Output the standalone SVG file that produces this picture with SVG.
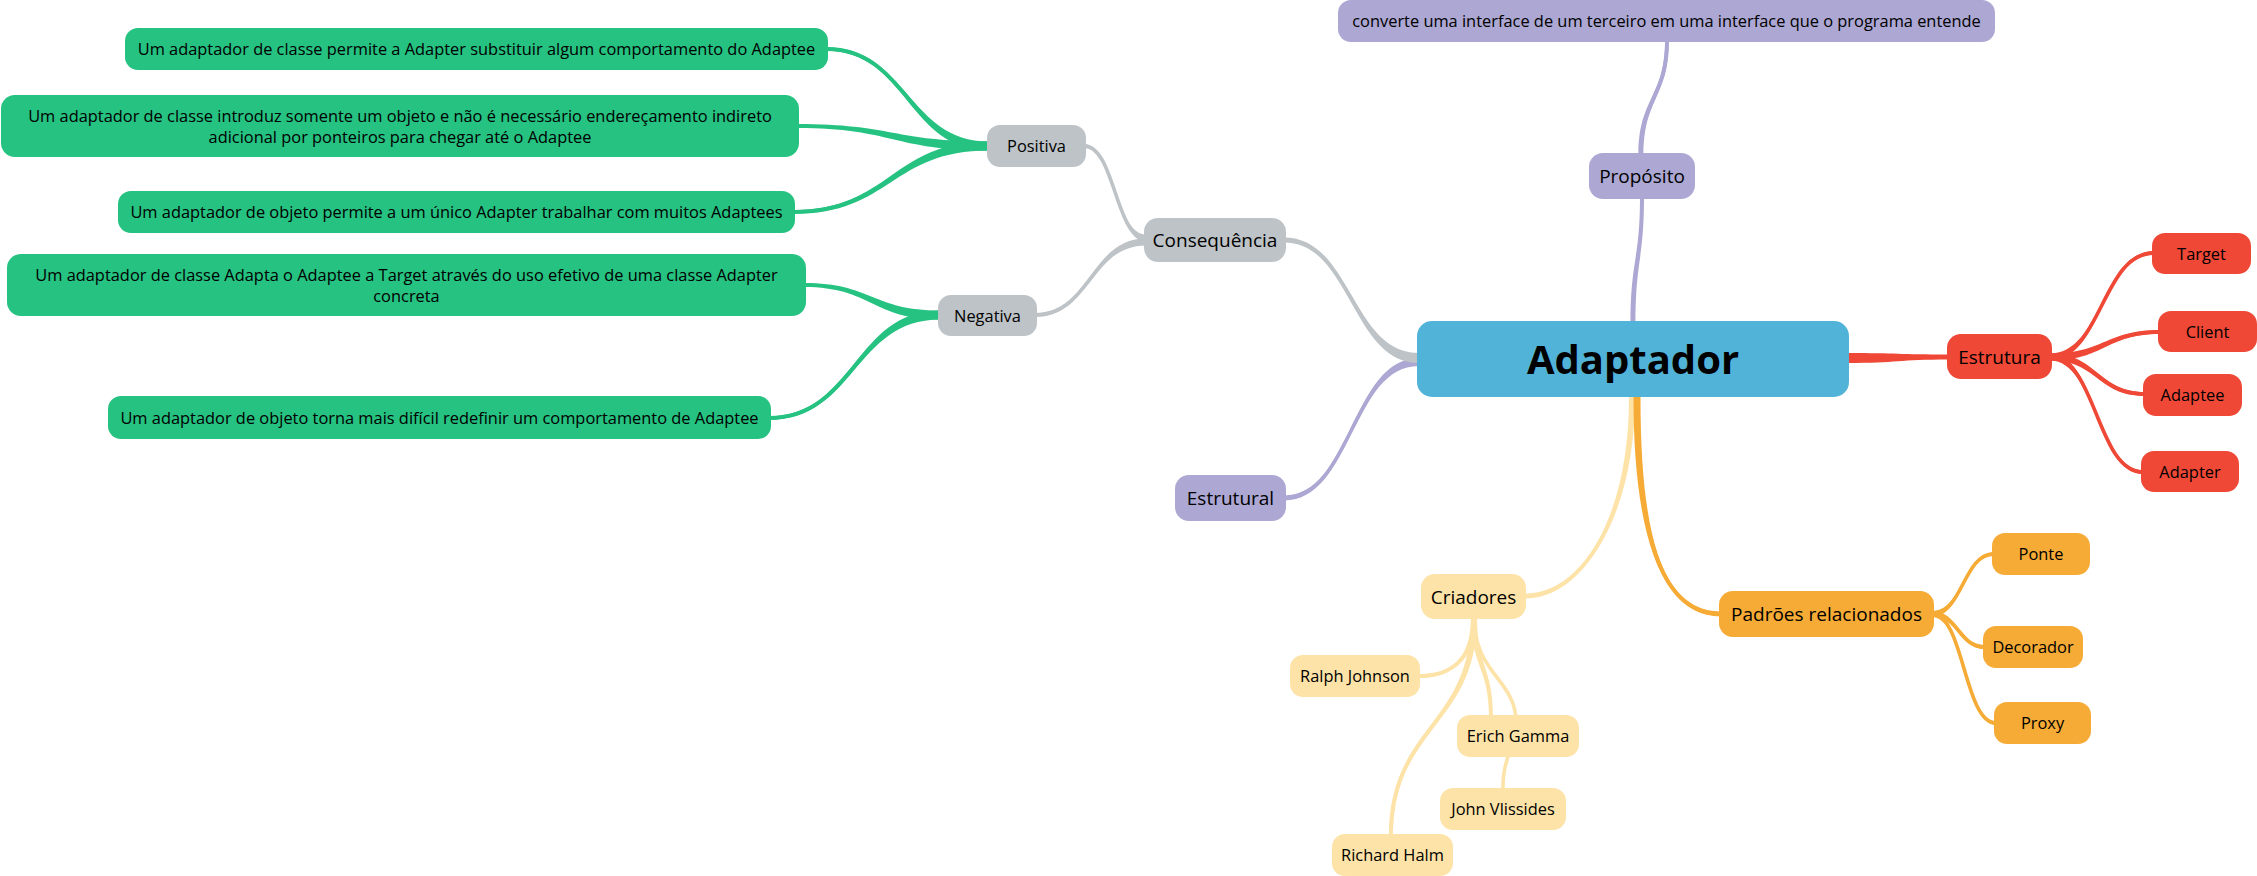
<svg xmlns="http://www.w3.org/2000/svg" width="2257" height="876" viewBox="0 0 2257 876">
<style>
text{font-family:"Open Sans","Noto Sans",sans-serif;fill:#000;text-anchor:middle}
.t16{font-size:16.4px}
.t19{font-size:19px}
.root{font-size:40px;font-weight:bold;fill:#000}
.green{fill:#26c281}
.gray{fill:#bdc3c7}
.purple{fill:#aca7d3}
.blue{fill:#52b3d9}
.red{fill:#ef4836}
.orange{fill:#f5ab35}
.yellow{fill:#fde3a7}
.line{fill:none;stroke-width:3.6}
.sg{stroke:#26c281}.sy{stroke:#bdc3c7}.sp{stroke:#aca7d3}.sr{stroke:#ef4836}.so{stroke:#f5ab35}.sl{stroke:#fde3a7}
</style>
<rect width="2257" height="876" fill="#fff"/>
<g id="connectors">
<path class="green" d="M826,47 C907.5,47 907.5,141.5 989,141.5 L989,150.5 C907.5,150.5 907.5,51 826,51 Z"/>
<path class="green" d="M797,124 C893,124 893,141.5 989,141.5 L989,150.5 C893,150.5 893,128 797,128 Z"/>
<path class="green" d="M793,210 C891,210 891,141.5 989,141.5 L989,150.5 C891,150.5 891,214 793,214 Z"/>
<path class="green" d="M804,283 C872,283 872,310.5 940,310.5 L940,319.5 C872,319.5 872,287 804,287 Z"/>
<path class="green" d="M769,416 C854.5,416 854.5,310.5 940,310.5 L940,319.5 C854.5,319.5 854.5,420 769,420 Z"/>
<path class="line sg" d="M826,49 C907.5,49 907.5,146 989,146"/>
<path class="line sg" d="M793,212 C891,212 891,146 989,146"/>
<path class="line sg" d="M769,418 C854.5,418 854.5,315 940,315"/>
<path class="gray" d="M1084,144 C1115,144 1115,234.5 1146,234.5 L1146,241.5 C1115,241.5 1115,148 1084,148 Z"/>
<path class="gray" d="M1035,313 C1090.5,313 1090.5,238.5 1146,238.5 L1146,245.5 C1090.5,245.5 1090.5,317 1035,317 Z"/>
<path class="line sy" d="M1084,146 C1115,146 1115,238 1146,238"/>
<path class="line sy" d="M1035,315 C1090.5,315 1090.5,242 1146,242"/>
<path class="purple" d="M1284,495.5 C1351.5,495.5 1351.5,358 1419,358 L1419,366 C1351.5,366 1351.5,500.5 1284,500.5 Z"/>
<path class="line sp" d="M1284,498 C1351.5,498 1351.5,362 1419,362"/>
<path class="gray" d="M1284,237.5 C1351.5,237.5 1351.5,353 1419,353 L1419,363 C1351.5,363 1351.5,242.5 1284,242.5 Z"/>
<path class="line sy" d="M1284,240 C1351.5,240 1351.5,358 1419,358"/>
<path class="purple" d="M1630.5,323 C1630.5,260 1640,260 1640,197 L1644,197 C1644,260 1635.5,260 1635.5,323 Z"/>
<path class="purple" d="M1638.5,155 C1638.5,97.5 1665,97.5 1665,40 L1669,40 C1669,97.5 1643.5,97.5 1643.5,155 Z"/>
<path class="line sp" d="M1641,155 C1641,97.5 1667,97.5 1667,40"/>
<path class="red" d="M1949,354.5 C1898,354.5 1898,353 1847,353 L1847,363 C1898,363 1898,359.5 1949,359.5 Z"/>
<path class="red" d="M2154,251 C2102,251 2102,353.5 2050,353.5 L2050,360.5 C2102,360.5 2102,255 2154,255 Z"/>
<path class="red" d="M2160,330 C2105,330 2105,353.5 2050,353.5 L2050,360.5 C2105,360.5 2105,334 2160,334 Z"/>
<path class="red" d="M2145,392 C2097.5,392 2097.5,353.5 2050,353.5 L2050,360.5 C2097.5,360.5 2097.5,396 2145,396 Z"/>
<path class="red" d="M2143,470 C2096.5,470 2096.5,353.5 2050,353.5 L2050,360.5 C2096.5,360.5 2096.5,474 2143,474 Z"/>
<path class="line sr" d="M2154,253 C2102,253 2102,357 2050,357"/>
<path class="line sr" d="M2160,332 C2105,332 2105,357 2050,357"/>
<path class="line sr" d="M2145,394 C2097.5,394 2097.5,357 2050,357"/>
<path class="line sr" d="M2143,472 C2096.5,472 2096.5,357 2050,357"/>
<path class="yellow" d="M1635,397 C1635,520 1580,598.5 1526,598.5 L1526,593.5 C1580,593.5 1629,520 1629,397 Z"/>
<path class="line sl" d="M1632,397 C1632,520 1580,596 1526,596"/>
<path class="orange" d="M1633.5,397 C1633.5,545 1665,616.5 1721,616.5 L1721,611.5 C1665,611.5 1640.5,545 1640.5,397 Z"/>
<path class="line so" d="M1637,397 C1637,545 1665,614 1721,614"/>
<path class="orange" d="M1994,552 C1963,552 1963,611 1932,611 L1932,617 C1963,617 1963,556 1994,556 Z"/>
<path class="orange" d="M1985,645 C1958.5,645 1958.5,611 1932,611 L1932,617 C1958.5,617 1958.5,649 1985,649 Z"/>
<path class="orange" d="M1996,721 C1964,721 1964,611 1932,611 L1932,617 C1964,617 1964,725 1996,725 Z"/>
<path class="line so" d="M1994,554 C1963,554 1963,614 1932,614"/>
<path class="line so" d="M1985,647 C1958.5,647 1958.5,614 1932,614"/>
<path class="line so" d="M1996,723 C1964,723 1964,614 1932,614"/>
<path class="yellow" d="M1477,617 C1477,660 1450,678 1420,678 L1420,674 C1450,674 1471,660 1471,617 Z"/>
<path class="yellow" d="M1471,617 C1471,726 1389,726 1389,836 L1393,836 C1393,726 1477,726 1477,617 Z"/>
<path class="yellow" d="M1471,617 C1471,667 1489,667 1489,717 L1493,717 C1493,667 1477,667 1477,617 Z"/>
<path class="line sl" d="M1474,617 C1474,660 1450,676 1420,676"/>
<path class="line sl" d="M1474,617 C1474,726 1391,726 1391,836"/>
<path class="line sl" d="M1474,617 C1474,675 1518,680 1516,725 C1514,750 1502,760 1503,790"/>
</g>
<g id="n-g1"><rect class="green" x="125" y="28" width="703" height="42" rx="13"/><text class="t16" x="476.5" y="55">Um adaptador de classe permite a Adapter substituir algum comportamento do Adaptee</text></g>
<g id="n-g2"><rect class="green" x="1" y="95" width="798" height="62" rx="14"/><text class="t16" x="400" y="121.5">Um adaptador de classe introduz somente um objeto e não é necessário endereçamento indireto</text><text class="t16" x="400" y="142.5">adicional por ponteiros para chegar até o Adaptee</text></g>
<g id="n-g3"><rect class="green" x="118" y="191" width="677" height="42" rx="13"/><text class="t16" x="456.5" y="218">Um adaptador de objeto permite a um único Adapter trabalhar com muitos Adaptees</text></g>
<g id="n-g4"><rect class="green" x="7" y="254" width="799" height="62" rx="14"/><text class="t16" x="406.5" y="280.5">Um adaptador de classe Adapta o Adaptee a Target através do uso efetivo de uma classe Adapter</text><text class="t16" x="406.5" y="301.5">concreta</text></g>
<g id="n-g5"><rect class="green" x="108" y="396" width="663" height="43" rx="13"/><text class="t16" x="439.5" y="423.5">Um adaptador de objeto torna mais difícil redefinir um comportamento de Adaptee</text></g>
<g id="n-positiva"><rect class="gray" x="987" y="125" width="99" height="42" rx="13"/><text class="t16" x="1036.5" y="152">Positiva</text></g>
<g id="n-negativa"><rect class="gray" x="938" y="295" width="99" height="41" rx="13"/><text class="t16" x="987.5" y="321.5">Negativa</text></g>
<g id="n-consequencia"><rect class="gray" x="1144" y="218" width="142" height="44" rx="14"/><text class="t19" x="1215" y="247">Consequência</text></g>
<g id="n-converte"><rect class="purple" x="1338" y="0" width="657" height="42" rx="13"/><text class="t16" x="1666.5" y="27">converte uma interface de um terceiro em uma interface que o programa entende</text></g>
<g id="n-proposito"><rect class="purple" x="1589" y="153" width="106" height="46" rx="14"/><text class="t19" x="1642" y="183">Propósito</text></g>
<g id="n-estrutural"><rect class="purple" x="1175" y="475" width="111" height="46" rx="14"/><text class="t19" x="1230.5" y="505">Estrutural</text></g>
<g id="n-adaptador"><rect class="blue" x="1417" y="321" width="432" height="76" rx="15"/><text class="root" x="1633" y="374">Adaptador</text></g>
<g id="n-estrutura"><rect class="red" x="1947" y="334" width="105" height="45" rx="14"/><text class="t19" x="1999.5" y="363.5">Estrutura</text></g>
<g id="n-target"><rect class="red" x="2152" y="233" width="99" height="41" rx="13"/><text class="t16" x="2201.5" y="259.5">Target</text></g>
<g id="n-client"><rect class="red" x="2158" y="311" width="99" height="41" rx="13"/><text class="t16" x="2207.5" y="337.5">Client</text></g>
<g id="n-adaptee"><rect class="red" x="2143" y="374" width="99" height="42" rx="13"/><text class="t16" x="2192.5" y="401">Adaptee</text></g>
<g id="n-adapter"><rect class="red" x="2141" y="451" width="98" height="41" rx="13"/><text class="t16" x="2190" y="477.5">Adapter</text></g>
<g id="n-padroes"><rect class="orange" x="1719" y="591" width="215" height="46" rx="14"/><text class="t19" x="1826.5" y="621">Padrões relacionados</text></g>
<g id="n-ponte"><rect class="orange" x="1992" y="533" width="98" height="42" rx="13"/><text class="t16" x="2041" y="560">Ponte</text></g>
<g id="n-decorador"><rect class="orange" x="1983" y="626" width="100" height="42" rx="13"/><text class="t16" x="2033" y="653">Decorador</text></g>
<g id="n-proxy"><rect class="orange" x="1994" y="702" width="97" height="42" rx="13"/><text class="t16" x="2042.5" y="729">Proxy</text></g>
<g id="n-criadores"><rect class="yellow" x="1421" y="574" width="105" height="45" rx="14"/><text class="t19" x="1473.5" y="603.5">Criadores</text></g>
<g id="n-ralph"><rect class="yellow" x="1290" y="655" width="130" height="42" rx="13"/><text class="t16" x="1355" y="682">Ralph Johnson</text></g>
<g id="n-erich"><rect class="yellow" x="1457" y="715" width="122" height="42" rx="13"/><text class="t16" x="1518" y="742">Erich Gamma</text></g>
<g id="n-john"><rect class="yellow" x="1440" y="788" width="126" height="42" rx="13"/><text class="t16" x="1503" y="815">John Vlissides</text></g>
<g id="n-richard"><rect class="yellow" x="1332" y="834" width="121" height="42" rx="13"/><text class="t16" x="1392.5" y="861">Richard Halm</text></g>
</svg>
